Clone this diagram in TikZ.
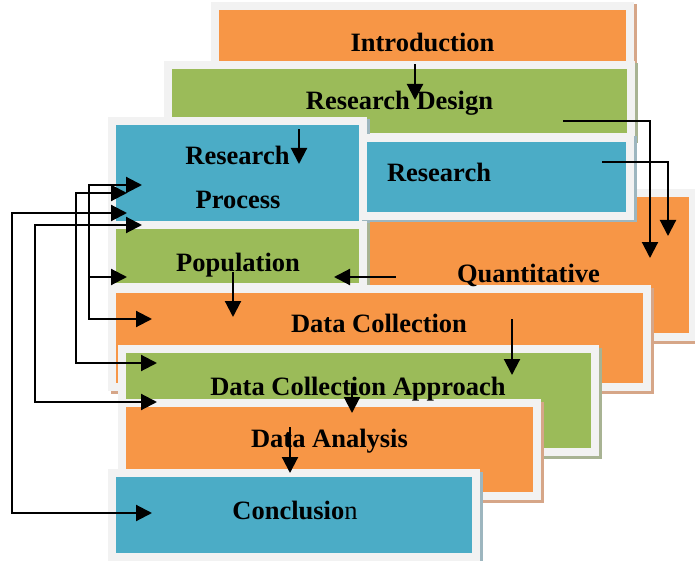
\documentclass[tikz,border=0pt]{standalone}
\usepackage{fontspec}
\setmainfont{Liberation Serif}
\usetikzlibrary{arrows.meta,shadows}
\definecolor{orng}{HTML}{F79646}
\definecolor{grn}{HTML}{9BBB59}
\definecolor{blu}{HTML}{4BACC6}
\definecolor{framegray}{HTML}{F2F2F2}
\definecolor{orngsh}{HTML}{D6A688}
\definecolor{grnsh}{HTML}{A8B393}
\definecolor{blush}{HTML}{9DB6BF}
\tikzset{
  panel/.style 2 args={rectangle, inner sep=0pt, outer sep=0pt, fill=framegray, draw=none, anchor=north west,
    drop shadow={shadow xshift=2.5pt, shadow yshift=-2.5pt, fill=#2, opacity=1},
    path picture={\fill[#1] ([shift={(8pt,-8pt)}]path picture bounding box.north west) rectangle ([shift={(-8pt,8pt)}]path picture bounding box.south east);}},
  lbl/.style={font=\fontsize{26.5}{30}\selectfont\bfseries, anchor=base, inner sep=0pt},
  arr/.style={draw=black, line width=2.1pt, line cap=rect, -{Triangle[length=16pt,width=16pt]}},
}
\begin{document}
\begin{tikzpicture}[x=1pt,y=-1pt]
\useasboundingbox (0,0) rectangle (695,561);
% panels
\node[panel={orng}{orngsh}, minimum width=423pt, minimum height=67pt] (intro) at (211,2) {};
\node[panel={grn}{grnsh}, minimum width=471pt, minimum height=80pt] (design) at (164,61) {};
\node[panel={orng}{orngsh}, minimum width=337pt, minimum height=152pt] (quant) at (360,189) {};
\node[panel={blu}{blush}, minimum width=259pt, minimum height=112pt] (process) at (108,117) {};
\node[panel={blu}{blush}, minimum width=275pt, minimum height=86pt] (resr) at (359,134) {};
\node[panel={grn}{grnsh}, minimum width=259pt, minimum height=70pt] (pop) at (108,221) {};
\node[panel={orng}{orngsh}, minimum width=543pt, minimum height=106pt] (dcol) at (108,285) {};
\node[panel={grn}{grnsh}, minimum width=481pt, minimum height=111pt] (dcapp) at (118,345) {};
\node[panel={orng}{orngsh}, minimum width=423pt, minimum height=101pt] (dana) at (118,399) {};
\node[panel={blu}{blush}, minimum width=372pt, minimum height=92pt] (concl) at (108,469) {};
% labels
\node[lbl] (tintro) at (422.5,52) {Introduction};
\node[lbl] (tdesign) at (399.5,110) {Research Design};
\node[lbl] (tproc1) at (237.5,165) {Research};
\node[lbl] (tproc2) at (238,208) {Process};
\node[lbl] (tresr) at (439,182) {Research};
\node[lbl] (tquant) at (528.5,282) {Quantitative};
\node[lbl] (tpop) at (238,271) {Population};
\node[lbl] (tdcol) at (379,332) {Data Collection};
\node[lbl] (tdcapp) at (358,395) {Data Collection Approach};
\node[lbl] (tdana) at (329.5,447) {Data Analysis};
\node[lbl] (tconcl) at (295,519) {Conclusio\mdseries n};
% connector points
\coordinate (i1) at (415,65);  \coordinate (i2) at (415,100);
\coordinate (p1) at (299,130); \coordinate (p2) at (299,164);
\coordinate (d1) at (564,121); \coordinate (d2) at (650,121); \coordinate (d3) at (650,258);
\coordinate (r1) at (603,162); \coordinate (r2) at (668,162); \coordinate (r3) at (668,236);
\coordinate (q1) at (395,277); \coordinate (q2) at (334,277);
\coordinate (o1) at (233,273); \coordinate (o2) at (233,317);
\coordinate (c1) at (512,320); \coordinate (c2) at (512,375);
\coordinate (e1) at (352,384); \coordinate (e2) at (352,413);
\coordinate (f1) at (290,428); \coordinate (f2) at (290,473);
\coordinate (aTop) at (89,185); \coordinate (aPop) at (89,277); \coordinate (aBot) at (89,319);
\coordinate (aT1) at (142,185); \coordinate (aT2) at (127,277); \coordinate (aT3) at (152,319);
\coordinate (bTop) at (76,193); \coordinate (bBot) at (76,363);
\coordinate (bT1) at (127,193); \coordinate (bT2) at (157,363);
\coordinate (cTop) at (12,213); \coordinate (cBot) at (12,513);
\coordinate (cT1) at (127,213); \coordinate (cT2) at (152,513);
\coordinate (dTop) at (35,225); \coordinate (dBot) at (35,402);
\coordinate (dT1) at (142,225); \coordinate (dT2) at (157,402);
% connectors
\draw[arr] (i1) -- (i2);
\draw[arr] (p1) -- (p2);
\draw[arr] (d1) -- (d2) -- (d3);
\draw[arr] (r1) -- (r2) -- (r3);
\draw[arr] (q1) -- (q2);
\draw[arr] (o1) -- (o2);
\draw[arr] (c1) -- (c2);
\draw[arr] (e1) -- (e2);
\draw[arr] (f1) -- (f2);
\draw[arr] (aBot) -- (aTop) -- (aT1);
\draw[arr] (aPop) -- (aT2);
\draw[arr] (aBot) -- (aT3);
\draw[arr] (bBot) -- (bTop) -- (bT1);
\draw[arr] (bBot) -- (bT2);
\draw[arr] (cBot) -- (cTop) -- (cT1);
\draw[arr] (cBot) -- (cT2);
\draw[arr] (dBot) -- (dTop) -- (dT1);
\draw[arr] (dBot) -- (dT2);
\end{tikzpicture}
\end{document}
